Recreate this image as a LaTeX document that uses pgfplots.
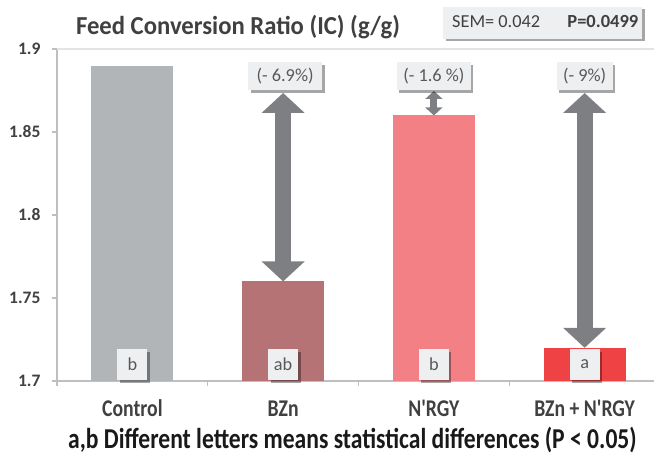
\documentclass[border=0pt]{standalone}
\usepackage{pgfplots}
\pgfplotsset{compat=1.18}
\usepackage{fontspec}
\setmainfont{Carlito}[Ligatures=TeXOff]
\usetikzlibrary{arrows.meta,shadows}
\definecolor{cctrl}{HTML}{B2B5B8}
\definecolor{cbzn}{HTML}{B67375}
\definecolor{cnrgy}{HTML}{F28084}
\definecolor{ccombo}{HTML}{EE4245}
\definecolor{carrow}{HTML}{7E7F83}
\definecolor{cbox}{HTML}{EEEFF1}
\definecolor{ctext}{HTML}{404040}
\definecolor{cltext}{HTML}{595959}
\definecolor{caxis}{HTML}{BFBFBF}
\definecolor{cgrid}{HTML}{E3E3E3}
\tikzset{lbl/.style={fill=cbox, text=cltext, inner sep=0pt, minimum height=28pt,
  font=\fontsize{18.3}{20}\selectfont,
  drop shadow={shadow xshift=2.5pt, shadow yshift=-2.5pt, fill=black, opacity=0.35}}}
\begin{document}
\begin{tikzpicture}[x=1pt,y=1pt]
\useasboundingbox (0,0) rectangle (654,455);
\begin{axis}[
  at={(57pt,74pt)}, anchor=south west,
  scale only axis, width=597pt, height=332pt,
  xmin=-0.5, xmax=3.46, ymin=1.7, ymax=1.9,
  clip mode=individual,
  axis x line*=bottom, axis y line*=left,
  axis line style={draw=caxis, line width=1.2pt, -},
  ytick={1.7,1.75,1.8,1.85,1.9},
  yticklabel style={font=\bfseries\fontsize{17.5}{20}\selectfont, text=ctext,
     /pgf/number format/fixed, /pgf/number format/precision=2, xshift=-8pt},
  /pgf/number format/assume math mode=true,
  ytick style={draw=caxis, line width=1.2pt},
  tick align=outside, major tick length=5pt,
  xtick={-0.5,0.5,1.5,2.5}, xticklabels={},
  xtick style={draw=caxis, line width=1.2pt},
  extra x ticks={0,1,2,3},
  extra x tick labels={Control,BZn,N'RGY,BZn + N'RGY},
  extra x tick style={major tick length=0pt,
     xticklabel style={font=\bfseries\fontsize{19.7}{22}\selectfont, text=ctext,
        anchor=base, yshift=-36pt, yscale=1.22}},
  extra y ticks={1.9}, extra y tick labels={},
  extra y tick style={grid=major, major grid style={draw=cgrid, line width=1.5pt}, major tick length=0pt},
  ybar, bar width=82pt, bar shift=0pt,
]
\addplot[fill=cctrl, draw=none] coordinates {(0,1.89)};
\addplot[fill=cbzn, draw=none] coordinates {(1,1.76)};
\addplot[fill=cnrgy, draw=none] coordinates {(2,1.86)};
\addplot[fill=ccombo, draw=none] coordinates {(3,1.72)};
% arrows
\draw[carrow, line width=16pt, {Triangle[width=42pt,length=20pt]}-{Triangle[width=42pt,length=20pt]}]
  (axis cs:1,1.8735) -- (axis cs:1,1.76);
\draw[carrow, line width=16pt, {Triangle[width=42pt,length=20pt]}-{Triangle[width=42pt,length=20pt]}]
  (axis cs:3,1.8735) -- (axis cs:3,1.72);
\draw[carrow, line width=7pt, {Triangle[width=17pt,length=8pt]}-{Triangle[width=17pt,length=8pt]}]
  (axis cs:2,1.8747) -- (axis cs:2,1.86);
% percentage labels
\node[lbl, minimum width=74pt] at (axis cs:1.013,1.8837) {(- 6.9\%)};
\node[lbl, minimum width=74pt] at (axis cs:2,1.8837) {(- 1.6 \%)};
\node[lbl, minimum width=56pt] at (axis cs:3,1.8837) {(- 9\%)};
% letters
\node[lbl, minimum width=30pt, minimum height=31pt] at (axis cs:0,1.7099) {b};
\node[lbl, minimum width=30pt, minimum height=31pt] at (axis cs:1,1.7099) {ab};
\node[lbl, minimum width=30pt, minimum height=31pt] at (axis cs:2,1.7099) {b};
\node[lbl, minimum width=30pt, minimum height=31pt] at (axis cs:3,1.7099) {a};
\end{axis}
\node[anchor=base, text=ctext, font=\bfseries\fontsize{24.7}{28}\selectfont, yscale=1.05] at (238,420) {Feed Conversion Ratio (IC) (g/g)};
\node[lbl, minimum width=199pt, minimum height=32pt] at (542.5,432) {};
\node[anchor=base west, inner sep=0pt, text=ctext, font=\fontsize{18.3}{20}\selectfont] at (452,427) {SEM= 0.042};
\node[anchor=base east, inner sep=0pt, text=ctext, font=\bfseries\fontsize{18.5}{20}\selectfont] at (638.5,427) {P=0.0499};
\node[anchor=base, inner sep=0pt, text=black!90, font=\bfseries\fontsize{23.6}{26}\selectfont, yscale=1.22] at (352.5,6)
  {a,b Different letters means statistical differences (P < 0.05)};
\end{tikzpicture}
\end{document}
